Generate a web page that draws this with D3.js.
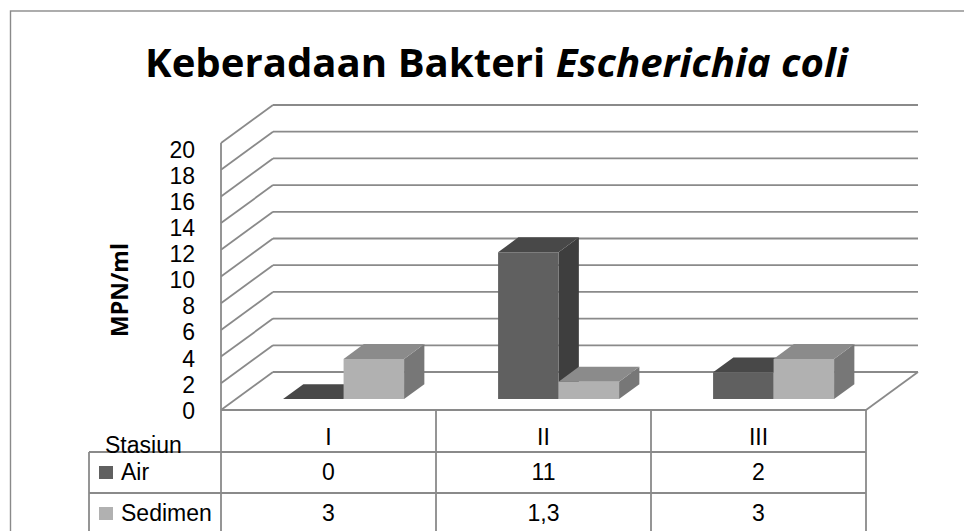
<!DOCTYPE html>
<html>
<head>
<meta charset="utf-8">
<script src="https://cdn.jsdelivr.net/npm/d3@7"></script>
<style>
  body { margin: 0; background: #fff; }
  svg { display: block; }
</style>
</head>
<body>
<svg width="964" height="531"></svg>
<script>
var categories = ['I', 'II', 'III'];
var seriesNames = ['Air', 'Sedimen'];
var airValues = [0, 11, 2];
var sedimenValues = [3, 1.3, 3];
var yTickValues = [0, 2, 4, 6, 8, 10, 12, 14, 16, 18, 20];

var svg = d3.select('svg');
var font = '"Open Sans", "DejaVu Sans", sans-serif';
var smallFont = '"Liberation Sans", Arial, sans-serif';
var gridColor = '#8a8a8a';

// front plane of the 3D box
var left = 221, right = 866;
var floorY = 410, topY = 143;
var depthDx = 52, depthDy = -38;   // offset of the back wall
var barZ0 = 0.29, barZ1 = 0.68;    // depth span of the bars

var x = d3.scaleBand().domain(categories).range([left, right]);
var xs = d3.scaleBand().domain(seriesNames).range([0, x.bandwidth()])
    .paddingInner(0).paddingOuter(0.777);
var y = d3.scaleLinear().domain([0, 20]).range([floorY, topY]);
var yLabel = d3.scaleLinear().domain([0, 20]).range([410.5, 149.5]);

var colors = {
    'Air': { front: '#606060', top: '#484848', side: '#3e3e3e' },
    'Sedimen': { front: '#b1b1b1', top: '#8b8b8b', side: '#777777' }
};

function P(px, v, z) {
    return [px + z * depthDx, y(v) + z * depthDy];
}
function line(a, b) {
    svg.append('line')
        .attr('x1', a[0]).attr('y1', a[1])
        .attr('x2', b[0]).attr('y2', b[1])
        .attr('stroke', gridColor)
        .attr('stroke-width', 1.8);
}

// outer chart border
svg.append('rect')
    .attr('x', 10.5).attr('y', 11)
    .attr('width', 1000).attr('height', 600)
    .attr('fill', 'none')
    .attr('stroke', '#8a8a8a')
    .attr('stroke-width', 1.4);

// back wall + side wall gridlines
yTickValues.forEach(function(v) {
    line(P(left, v, 1), P(right, v, 1));
    line(P(left, v, 0), P(left, v, 1));
});
line(P(left, 0, 0), P(left, 20, 0));
line(P(left, 0, 0), P(right, 0, 0));
line(P(right, 0, 0), P(right, 0, 1));

// bars
var seriesValues = { 'Air': airValues, 'Sedimen': sedimenValues };
categories.forEach(function(c, ci) {
    seriesNames.forEach(function(s) {
        var v = seriesValues[s][ci];
        var x0 = x(c) + xs(s), x1 = x0 + xs.bandwidth();
        var col = colors[s];
        var poly = function(pts, fill) {
            svg.append('polygon')
                .attr('points', pts.map(function(p) { return p.join(','); }).join(' '))
                .attr('fill', fill);
        };
        if (v > 0) {
            poly([P(x1, 0, barZ0), P(x1, 0, barZ1), P(x1, v, barZ1), P(x1, v, barZ0)], col.side);
        }
        poly([P(x0, v, barZ0), P(x1, v, barZ0), P(x1, v, barZ1), P(x0, v, barZ1)], col.top);
        if (v > 0) {
            poly([P(x0, 0, barZ0), P(x1, 0, barZ0), P(x1, v, barZ0), P(x0, v, barZ0)], col.front);
        }
    });
});

// y tick labels
svg.selectAll('.ytick')
    .data(yTickValues)
    .enter()
    .append('text')
    .attr('class', 'ytick')
    .attr('x', 195)
    .attr('y', function(d) { return yLabel(d); })
    .attr('dy', '0.36em')
    .style('text-anchor', 'end')
    .style('font-family', smallFont)
    .style('font-size', '23px')
    .style('fill', '#000')
    .text(function(d) { return d; });

// y axis title
svg.append('text')
    .attr('transform', 'translate(128,290) rotate(-90)')
    .style('text-anchor', 'middle')
    .style('font-family', font)
    .style('font-weight', 'bold')
    .style('font-size', '23px')
    .text('MPN/ml');

// title
var title = svg.append('text')
    .style('font-family', font)
    .style('font-weight', 'bold')
    .style('font-size', '40px');
title.append('tspan').text('Keberadaan Bakteri ');
title.append('tspan').style('font-style', 'italic').text('Escherichia coli');
var tw = title.node().getComputedTextLength();
title.attr('transform', 'translate(145,77) scale(' + (703 / tw) + ',1)');

// data table
var headerBottom = 452, rowH = 41, tableLeft = 89;
var tableBottom = 560;
[headerBottom, headerBottom + rowH].forEach(function(ty) {
    line([tableLeft, ty], [right, ty]);
});
line([tableLeft, headerBottom], [tableLeft, tableBottom]);
x.domain().forEach(function(c) {
    line([x(c), floorY], [x(c), tableBottom]);
});
line([right, floorY], [right, tableBottom]);

var textStyle = function(sel) {
    return sel.style('font-family', smallFont).style('font-size', '23px').style('fill', '#000');
};

textStyle(svg.append('text'))
    .attr('x', 105).attr('y', 453)
    .text('Stasiun');

textStyle(svg.selectAll('.cat').data(categories).enter().append('text'))
    .attr('class', 'cat')
    .attr('x', function(d) { return x(d) + x.bandwidth() / 2; })
    .attr('y', 445)
    .style('text-anchor', 'middle')
    .text(function(d) { return d; });

var fmt = d3.formatLocale({ decimal: ',', thousands: '.', grouping: [3], currency: ['', ''] }).format('~g');

seriesNames.forEach(function(s, si) {
    var rowTop = headerBottom + si * rowH;
    svg.append('rect')
        .attr('x', 99).attr('y', rowTop + 14)
        .attr('width', 14).attr('height', 13)
        .attr('fill', colors[s].front);
    textStyle(svg.append('text'))
        .attr('x', 121).attr('y', rowTop + 28)
        .text(s);
    textStyle(svg.selectAll('.val' + si).data(seriesValues[s]).enter().append('text'))
        .attr('class', 'val' + si)
        .attr('x', function(d, i) { return x(categories[i]) + x.bandwidth() / 2; })
        .attr('y', rowTop + 28)
        .style('text-anchor', 'middle')
        .text(function(d) { return fmt(d); });
});
</script>
</body>
</html>
